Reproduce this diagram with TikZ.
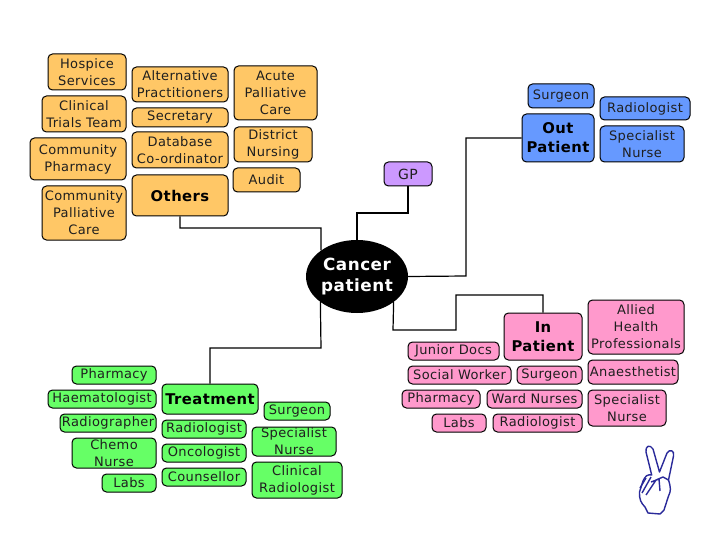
\documentclass[tikz,border=0pt]{standalone}
\usepackage{fontspec}
\setmainfont[LetterSpace=3]{DejaVu Sans}
\usetikzlibrary{shapes.geometric}
\newcommand{\bx}[7]{%
  \pgfmathsetmacro{\bxw}{#5-#3}\pgfmathsetmacro{\bxh}{#6-#4}%
  \pgfmathsetmacro{\bxa}{(#3+#5)/2}\pgfmathsetmacro{\bxb}{(#4+#6)/2}%
  \node[#1,minimum width=\bxw pt,minimum height=\bxh pt] (#2) at (\bxa,\bxb) {#7};}
\tikzset{
  box/.style={draw=black,line width=1pt,rounded corners=4.5pt,inner sep=0pt,align=center,
    font=\fontsize{13}{17}\selectfont,text=black!88},
  head/.style={font=\fontsize{14.8}{19}\selectfont\bfseries,text=black},
  obox/.style={box,fill=orangefill},
  bbox/.style={box,fill=bluefill},
  pbox/.style={box,fill=pinkfill},
  gbox/.style={box,fill=greenfill},
  vbox/.style={box,fill=violetfill},
  link/.style={draw=black,line width=1.2pt},
}
\definecolor{orangefill}{HTML}{FFC766}
\definecolor{bluefill}{HTML}{6699FF}
\definecolor{pinkfill}{HTML}{FF99CC}
\definecolor{greenfill}{HTML}{66FF66}
\definecolor{violetfill}{HTML}{CC99FF}
\definecolor{handblue}{HTML}{2A2A9A}
\begin{document}
\begin{tikzpicture}[x=1pt,y=-1pt]
\useasboundingbox (0,0) rectangle (720,540);
\fill[white] (0,0) rectangle (720,540);
% others
\bx{obox}{hospice}{48}{54}{126}{90}{Hospice\\Services}
\bx{obox}{altern}{132}{67}{228}{102}{Alternative\\Practitioners}
\bx{obox}{acute}{234}{66}{317}{120}{Acute\\Palliative\\Care}
\bx{obox}{clinical}{42}{96}{126}{132}{Clinical\\Trials Team}
\bx{obox}{secretary}{132}{108}{228}{127}{Secretary}
\bx{obox}{database}{132}{132}{228}{168}{Database\\Co-ordinator}
\bx{obox}{district}{234}{127}{312}{162}{District\\Nursing}
\bx{obox}{commph}{30}{138}{126}{180}{Community\\Pharmacy}
\bx{obox}{audit}{233}{168}{300}{192}{Audit}
\bx{obox,head}{others}{132}{175}{228}{216}{Others}
\bx{obox}{commpal}{42}{186}{126}{240}{Community\\Palliative\\Care}
% GP and out patient
\bx{vbox,font=\fontsize{14}{18}\selectfont}{gp}{384}{162}{432}{186}{GP}
\bx{bbox}{ossurgeon}{528}{84}{594}{108}{Surgeon}
\bx{bbox}{osradiol}{600}{97}{690}{120}{Radiologist}
\bx{bbox,head}{outpatient}{522}{114}{594}{162}{Out\\Patient}
\bx{bbox}{osnurse}{600}{126}{684}{162}{Specialist\\Nurse}
% centre
\node[ellipse,fill=black,text=white,inner sep=0pt,minimum width=102pt,minimum height=73pt,align=center,
  font=\fontsize{16.8}{21}\selectfont\bfseries] (patient) at (357,276.5) {Cancer\\patient};
% in patient
\bx{pbox,head}{inpatient}{504}{313}{582}{360}{In\\Patient}
\bx{pbox}{allied}{588}{300}{684}{354}{Allied\\Health\\Professionals}
\bx{pbox}{junior}{408}{342}{499}{360}{Junior Docs}
\bx{pbox}{social}{408}{366}{511}{384}{Social Worker}
\bx{pbox}{ipsurgeon}{517}{366}{582}{384}{Surgeon}
\bx{pbox}{anaes}{588}{360}{678}{384}{Anaesthetist}
\bx{pbox}{ippharm}{402}{390}{480}{408}{Pharmacy}
\bx{pbox}{ward}{487}{390}{582}{408}{Ward Nurses}
\bx{pbox}{ipnurse}{588}{390}{666}{426}{Specialist\\Nurse}
\bx{pbox}{iplabs}{432}{414}{486}{432}{Labs}
\bx{pbox}{ipradiol}{493}{414}{582}{432}{Radiologist}
% treatment
\bx{gbox}{tpharm}{72}{366}{156}{384}{Pharmacy}
\bx{gbox}{haem}{48}{390}{156}{408}{Haematologist}
\bx{gbox,head}{treatment}{162}{384}{258}{414}{Treatment}
\bx{gbox}{tsurgeon}{264}{402}{330}{420}{Surgeon}
\bx{gbox}{radiog}{60}{414}{156}{432}{Radiographer}
\bx{gbox}{tradiol}{162}{420}{246}{438}{Radiologist}
\bx{gbox}{tnurse}{252}{427}{336}{456}{Specialist\\Nurse}
\bx{gbox}{chemo}{72}{438}{156}{468}{Chemo\\Nurse}
\bx{gbox}{oncol}{162}{444}{246}{462}{Oncologist}
\bx{gbox}{clinrad}{252}{462}{342}{498}{Clinical\\Radiologist}
\bx{gbox}{tlabs}{102}{474}{156}{492}{Labs}
\bx{gbox}{counsel}{162}{468}{246}{486}{Counsellor}
% connectors
\coordinate (c1) at (321,228);
\coordinate (c2) at (357,213);
\coordinate (c3) at (466,276);
\coordinate (c4) at (321,348);
\coordinate (c5) at (393,330);
\coordinate (c6) at (456,330);
\coordinate (c7) at (456,295);
\draw[link] (others.south) |- (c1) -- (patient.144.4);
\draw[link] (gp.south) |- (c2) -- (patient.north);
\draw[link] (outpatient.west) -| (c3) -- (patient.east);
\draw[link] (patient.-35.6) -- (c5) -- (c6) -- (c7) -| (inpatient.north);
\draw[link] (patient.215.6) -- (c4) -| (treatment.north);
% hand
\draw[handblue,line width=1.4pt,line join=round,fill=white]
  (651.7,475) -- (646,452) .. controls (645,446) and (650,444) .. (653,449)
  -- (659.5,472) -- (667,453) .. controls (669,449) and (675,450) .. (673.5,456)
  -- (668.5,480) .. controls (671,488) and (671,491) .. (668.5,496)
  -- (664,510) -- (660,514) -- (648,513) -- (645,507)
  .. controls (641,503) and (639,499) .. (639.5,492)
  -- (643,481) .. controls (645,476) and (648,474) .. (651.7,475) -- cycle;
\draw[handblue,line width=1.4pt,line join=round]
  (640,488) -- (646,478) (642,493) -- (651,477) (646,495) -- (656,480)
  (651,482) -- (659,479) -- (660,491) (656,480) -- (663,477) -- (668.5,480);
\end{tikzpicture}
\end{document}
